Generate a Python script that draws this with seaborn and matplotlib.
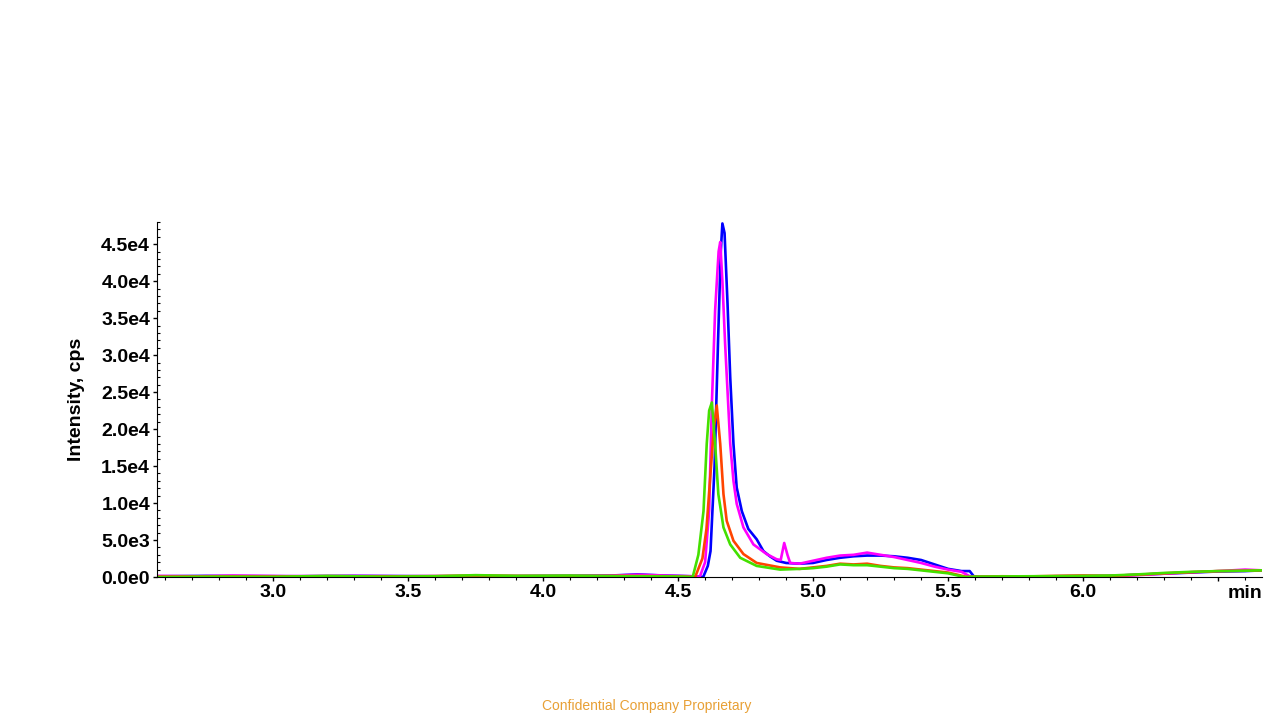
import numpy as np
import pandas as pd
import seaborn as sns
import matplotlib.pyplot as plt
from matplotlib.ticker import MultipleLocator

# Overlaid extracted-ion chromatograms (4 traces).

blue_t = [2.57, 2.75, 2.9, 3.1, 3.3, 3.5, 3.7, 3.9, 4.1, 4.25, 4.35, 4.45, 4.55, 4.593,
          4.61, 4.62, 4.635, 4.648, 4.658, 4.664, 4.672, 4.683, 4.693, 4.705, 4.717,
          4.736, 4.76, 4.791, 4.816, 4.84, 4.865, 4.9, 4.95, 5.0, 5.05, 5.1, 5.15, 5.2,
          5.25, 5.3, 5.35, 5.4, 5.45, 5.5, 5.55, 5.58, 5.595, 5.62, 5.7, 5.8, 5.9, 6.0,
          6.1, 6.2, 6.3, 6.4, 6.5, 6.6, 6.663]
blue_i = [100, 150, 120, 100, 150, 120, 100, 120, 150, 200, 350, 200, 100, 0,
          1500, 3500, 15000, 32000, 44000, 47800, 46500, 37000, 27000, 18000, 12100,
          8900, 6500, 5100, 3500, 2800, 2200, 1900, 1800, 1900, 2300, 2600, 2800, 2900,
          2900, 2800, 2600, 2300, 1700, 1100, 800, 800, 100, 0, 0, 50, 100, 100,
          150, 300, 450, 600, 750, 800, 900]

magenta_t = [2.57, 2.72, 2.85, 3.05, 3.3, 3.5, 3.7, 3.9, 4.1, 4.25, 4.35, 4.45, 4.55, 4.58,
             4.60, 4.615, 4.625, 4.637, 4.650, 4.656, 4.664, 4.674, 4.693, 4.705, 4.717,
             4.742, 4.779, 4.828, 4.865, 4.88, 4.893, 4.905, 4.915, 4.95, 5.0, 5.05, 5.1,
             5.15, 5.2, 5.25, 5.3, 5.35, 5.4, 5.45, 5.5, 5.55, 5.58, 5.6, 5.7, 5.8, 5.9,
             6.0, 6.1, 6.2, 6.3, 6.4, 6.5, 6.6, 6.663]
magenta_i = [150, 100, 200, 120, 150, 100, 120, 100, 150, 180, 300, 200, 100, 0,
             2000, 9000, 23400, 36000, 44000, 45300, 40000, 31600, 18000, 13000, 9900,
             6700, 4400, 3100, 2400, 2300, 4600, 3000, 1900, 1800, 2200, 2600, 2900,
             3000, 3300, 3000, 2700, 2300, 1900, 1400, 1000, 700, 100, 0, 50, 80, 100,
             150, 100, 250, 450, 650, 800, 1000, 900]

red_t = [2.57, 2.8, 3.0, 3.2, 3.4, 3.6, 3.75, 3.9, 4.1, 4.3, 4.45, 4.52, 4.563,
         4.59, 4.605, 4.619, 4.632, 4.643, 4.656, 4.668, 4.680, 4.705, 4.742, 4.791,
         4.878, 4.95, 5.0, 5.05, 5.1, 5.15, 5.2, 5.25, 5.3, 5.35, 5.45, 5.5, 5.57,
         5.6, 5.7, 5.8, 5.9, 6.0, 6.1, 6.2, 6.3, 6.4, 6.5, 6.6, 6.663]
red_i = [50, 80, 60, 100, 80, 120, 200, 150, 120, 150, 100, 50, 0,
         2500, 6500, 13500, 20000, 23200, 18000, 11200, 7600, 4900, 3100, 1900,
         1300, 1100, 1300, 1500, 1800, 1700, 1800, 1500, 1300, 1200, 800, 600, 0,
         50, 100, 80, 150, 200, 150, 300, 500, 650, 800, 850, 900]

green_t = [2.57, 2.8, 3.0, 3.2, 3.4, 3.6, 3.75, 3.9, 4.1, 4.3, 4.45, 4.52, 4.554,
           4.575, 4.594, 4.606, 4.615, 4.625, 4.637, 4.649, 4.668, 4.693, 4.730, 4.791,
           4.878, 4.95, 5.0, 5.05, 5.1, 5.15, 5.2, 5.25, 5.3, 5.35, 5.45, 5.5, 5.56,
           5.6, 5.7, 5.8, 5.9, 6.0, 6.1, 6.2, 6.3, 6.4, 6.5, 6.6, 6.663]
green_i = [0, 50, 30, 150, 50, 100, 250, 150, 200, 100, 80, 50, 0,
           3000, 8900, 18000, 22500, 23600, 18000, 11200, 6700, 4400, 2600, 1500,
           1000, 1100, 1200, 1400, 1700, 1600, 1600, 1400, 1200, 1100, 700, 500, 0,
           50, 80, 100, 120, 150, 200, 350, 550, 700, 800, 850, 900]

series = [("blue", blue_t, blue_i, "#0000FF"),
          ("magenta", magenta_t, magenta_i, "#FF00FF"),
          ("red", red_t, red_i, "#FF4400"),
          ("green", green_t, green_i, "#44E000")]

sns.set_style("ticks", {"axes.edgecolor": "black", "xtick.color": "black",
                        "ytick.color": "black", "text.color": "black",
                        "axes.labelcolor": "black"})
plt.rcParams['font.family'] = ['Liberation Sans', 'DejaVu Sans']

fig = plt.figure(figsize=(12.8, 7.2), dpi=100)
ax = fig.add_axes([0.1227, 0.1986, 0.8633, 0.4931])

for name, t, i, c in series:
    df = pd.DataFrame({"time": t, "intensity": i})
    sns.lineplot(data=df, x="time", y="intensity", color=c, lw=1.9, sort=False, ax=ax)

ax.set_xlim(2.57, 6.663)
ax.set_ylim(0, 48000)
sns.despine(ax=ax)

ax.set_xticks([3.0, 3.5, 4.0, 4.5, 5.0, 5.5, 6.0, 6.5])
ax.set_xticklabels(["3.0", "3.5", "4.0", "4.5", "5.0", "5.5", "6.0", ""])
ax.xaxis.set_minor_locator(MultipleLocator(0.1))
yt = np.arange(0, 45001, 5000)
ax.set_yticks(yt)
ax.set_yticklabels([f"{v/10**int(np.floor(np.log10(v))):.1f}e{int(np.floor(np.log10(v)))}" if v > 0 else "0.0e0" for v in yt])
ax.yaxis.set_minor_locator(MultipleLocator(1000))
ax.tick_params(axis="both", which="major", length=3, width=1, labelsize=14, pad=2)
ax.tick_params(axis="both", which="minor", length=2, width=0.8)
ax.tick_params(axis="y", which="minor", direction="in")
for lab in ax.get_xticklabels() + ax.get_yticklabels():
    lab.set_fontweight("bold")

ax.text(6.6, -0.022, "min", transform=ax.get_xaxis_transform(), ha="center", va="top",
        fontsize=14, fontweight="bold")

ax.set_xlabel("")
ax.set_ylabel("Intensity, cps", fontsize=14, fontweight="bold", labelpad=12)

fig.text(0.505, 0.019, "Confidential Company Proprietary", ha="center", va="center",
         fontsize=10, color="#E8A035")

fig.savefig("out.png", dpi=100)
